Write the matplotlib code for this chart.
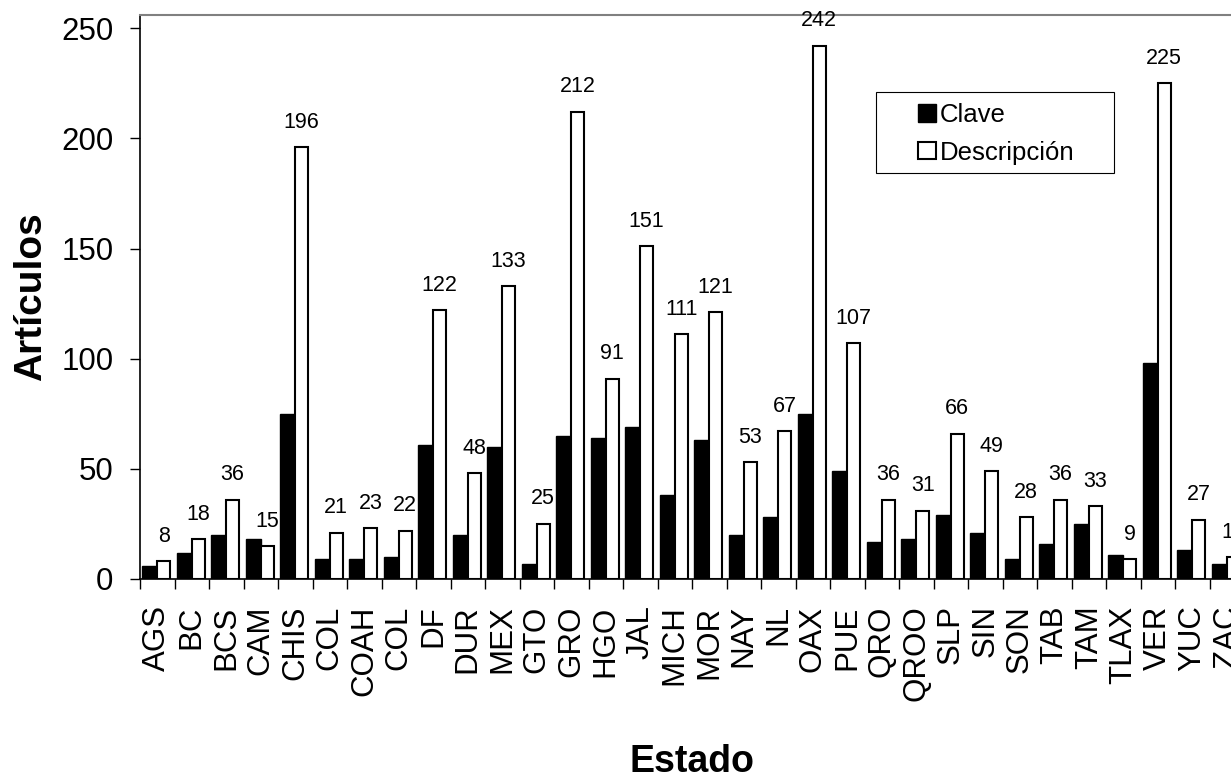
import numpy as np
import matplotlib.pyplot as plt
from matplotlib.patches import Rectangle

plt.rcParams['font.family'] = ['Liberation Sans', 'DejaVu Sans']

estados = ['AGS', 'BC', 'BCS', 'CAM', 'CHIS', 'COL', 'COAH', 'COL', 'DF', 'DUR',
           'MEX', 'GTO', 'GRO', 'HGO', 'JAL', 'MICH', 'MOR', 'NAY', 'NL', 'OAX',
           'PUE', 'QRO', 'QROO', 'SLP', 'SIN', 'SON', 'TAB', 'TAM', 'TLAX', 'VER',
           'YUC', 'ZAC']
clave = [6, 12, 20, 18, 75, 9, 9, 10, 61, 20,
         60, 7, 65, 64, 69, 38, 63, 20, 28, 75,
         49, 17, 18, 29, 21, 9, 16, 25, 11, 98,
         13, 7]
descripcion = [8, 18, 36, 15, 196, 21, 23, 22, 122, 48,
               133, 25, 212, 91, 151, 111, 121, 53, 67, 242,
               107, 36, 31, 66, 49, 28, 36, 33, 9, 225,
               27, 10]

W, H = 1231, 775
fig = plt.figure(figsize=(W / 100, H / 100), dpi=100)
# plot area runs past the right edge, as in the cropped original
ax = fig.add_axes([140 / W, (H - 579) / H, 1104 / W, (579 - 15) / H])

x = np.arange(len(estados))
ax.bar(x, clave, width=-0.43, align='edge', color='black', edgecolor='black',
       linewidth=1, label='Clave')
ax.bar(x, descripcion, width=0.37, align='edge', color='white', edgecolor='black',
       linewidth=1.5, label='Descripción')

for xi, v in zip(x, descripcion):
    ax.annotate(str(v), (xi + 0.185, v), xytext=(0, 14), textcoords='offset points',
                ha='center', va='baseline', fontsize=15.5)

ax.set_xlim(-0.5, len(estados) - 0.5)
ax.set_ylim(0, 256)
ax.set_yticks([0, 50, 100, 150, 200, 250])
ax.tick_params(axis='y', labelsize=22.5, length=7, width=1, pad=12, direction='out')
ax.set_xticks(x)
ax.set_xticklabels(estados, rotation=90)
ax.set_xticks(np.arange(len(estados)) - 0.5, minor=True)
ax.tick_params(axis='x', which='major', length=0, labelsize=22.5, pad=19)
ax.tick_params(axis='x', which='minor', length=7, width=1, direction='out')

ax.spines['top'].set_color('#808080')
ax.spines['top'].set_linewidth(1.5)
ax.spines['right'].set_visible(False)
ax.spines['left'].set_linewidth(1.2)
ax.spines['bottom'].set_linewidth(1.2)

ax.set_ylabel('Artículos', fontsize=28, fontweight='bold')
ax.yaxis.set_label_coords(-0.082, 0.5)
fig.text(692 / W, 3 / H, 'Estado', fontsize=27, fontweight='bold',
         ha='center', va='baseline')

# legend box
fig.patches.append(Rectangle((876 / W, 1 - 173 / H), 238 / W, 81 / H,
                             transform=fig.transFigure, facecolor='white',
                             edgecolor='black', linewidth=0.8, zorder=5))
leg = fig.legend(loc='upper left', bbox_to_anchor=(918 / W, 1 - 103 / H),
                 frameon=False, fontsize=18.5, handlelength=0.7, handleheight=0.68,
                 handletextpad=0.15, labelspacing=0.53, borderpad=0, borderaxespad=0)
leg.set_zorder(6)

plt.savefig('out.png', dpi=100)
